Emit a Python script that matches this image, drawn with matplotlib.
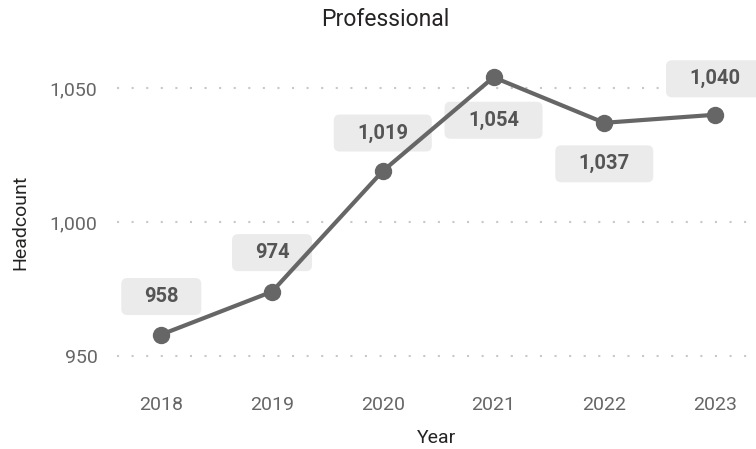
import matplotlib
matplotlib.use("Agg")
import matplotlib.pyplot as plt
from matplotlib.patches import FancyBboxPatch
from matplotlib.transforms import ScaledTranslation
from matplotlib.ticker import FuncFormatter

years = [2018, 2019, 2020, 2021, 2022, 2023]
headcount = [958, 974, 1019, 1054, 1037, 1040]
y_ticks = [950, 1000, 1050]

plt.rcParams['font.family'] = ['Roboto', 'DejaVu Sans']

LINE = '#666666'
TXT = '#555555'

fig = plt.figure(figsize=(7.56, 4.49), dpi=100)
ax = fig.add_axes([117 / 756, 1 - 375 / 449, 639 / 756, 320 / 449])

ax.plot(years, headcount, color=LINE, lw=3, marker='o', ms=11.5, zorder=3)

ax.set_xlim(2017.6, 2023.37)
ax.set_ylim(942.9, 1062.3)
ax.set_xticks(years)
ax.set_yticks(y_ticks)
ax.yaxis.set_major_formatter(FuncFormatter(lambda v, p: f"{int(v):,}"))
ax.tick_params(length=0, labelsize=14, labelcolor='#666666')
ax.tick_params(axis='y', pad=14)
ax.tick_params(axis='x', pad=15)
for s in ax.spines.values():
    s.set_visible(False)
ax.grid(axis='y', color='#c8c8c8', lw=1.5, linestyle=(0, (1, 6)))
ax.set_axisbelow(True)

# data labels: offset in inches from the point (negative = below)
offsets = [0.38, 0.39, 0.38, -0.43, -0.41, 0.36]
for x, y, dy in zip(years, headcount, offsets):
    label = f"{y:,}"
    w = 0.53 + 0.09 * len(label)
    h = 0.37
    trans = fig.dpi_scale_trans + ScaledTranslation(x, y, ax.transData)
    box = FancyBboxPatch((-w / 2, dy - h / 2), w, h,
                         boxstyle="round,pad=0,rounding_size=0.06",
                         transform=trans, fc='#ebebeb', ec='none',
                         zorder=2, clip_on=False)
    ax.add_patch(box)
    ax.text(0, dy, label, transform=trans, ha='center', va='center',
            fontsize=14.5, fontweight='bold', color=TXT, zorder=4)

fig.text(385 / 756, 1 - 20 / 449, "Professional", ha='center', va='center',
         fontsize=16.5, color='#252423')
fig.text(437 / 756, 1 - 438 / 449, "Year", ha='center', va='center',
         fontsize=14, color='#252423')
fig.text(20 / 756, 1 - 222 / 449, "Headcount", ha='center', va='center',
         rotation=90, fontsize=14, color='#252423')

fig.savefig("out.png", dpi=100)
